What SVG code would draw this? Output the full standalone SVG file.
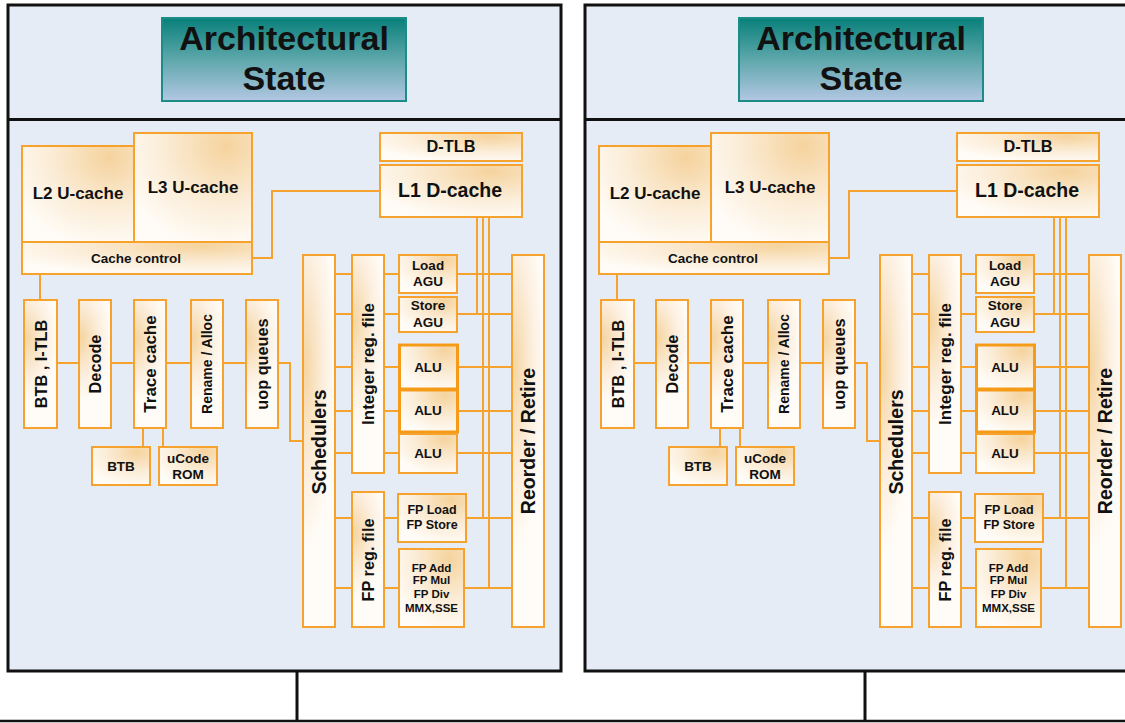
<svg xmlns="http://www.w3.org/2000/svg" width="1125" height="723" viewBox="0 0 1125 723">
<defs>
<linearGradient id="teal" x1="0" y1="0" x2="0" y2="1">
<stop offset="0" stop-color="#08807a"/>
<stop offset="0.5" stop-color="#5ea7ab"/>
<stop offset="1" stop-color="#b3c7e3"/>
</linearGradient>
<radialGradient id="hg" cx="0.78" cy="0.12" r="0.95">
<stop offset="0" stop-color="#f5d39d"/>
<stop offset="0.55" stop-color="#fbecd6"/>
<stop offset="1" stop-color="#fffcf7"/>
</radialGradient>
<radialGradient id="vg" cx="0.05" cy="0.3" r="1" gradientTransform="translate(0.05 0.3) scale(1 0.5) translate(-0.05 -0.3)">
<stop offset="0" stop-color="#f5d5a2"/>
<stop offset="0.6" stop-color="#fcefdf"/>
<stop offset="1" stop-color="#fffcf7"/>
</radialGradient>
<style>
.panel{fill:#e6ecf6;stroke:#111;stroke-width:3}
.bar{stroke:#111;stroke-width:3;fill:none}
.as{fill:url(#teal);stroke:#1b8c86;stroke-width:2}
.h{fill:url(#hg);stroke:#f7a22c;stroke-width:2}
.v{fill:url(#vg);stroke:#f7a22c;stroke-width:2}
.hb{fill:url(#hg);stroke:#f59b18;stroke-width:3}
.c{fill:none;stroke:#f7a22c;stroke-width:2}
text{font-family:"Liberation Sans",Arial,sans-serif;font-weight:bold;fill:#111;text-anchor:middle}
.t34{font-size:34px}
.t20{font-size:19.5px}
.t17{font-size:17px}
.t16{font-size:16.3px}
.t14{font-size:14px}
.t13{font-size:13.5px}
.t12{font-size:12.5px}
.t11{font-size:11.5px}
</style>
</defs>
<rect width="1125" height="723" fill="#ffffff"/>
<g id="frames">
<rect class="panel" x="8" y="5" width="553" height="666"/>
<line class="bar" x1="8" y1="119.5" x2="561" y2="119.5"/>
<rect class="panel" x="585" y="5" width="560" height="666"/>
<line class="bar" x1="585" y1="119.5" x2="1125" y2="119.5"/>
<line class="bar" x1="297" y1="671" x2="297" y2="721"/>
<line class="bar" x1="865" y1="671" x2="865" y2="721"/>
<line x1="0" y1="721" x2="1125" y2="721" stroke="#111" stroke-width="2.5"/>
</g>

<g id="core0">
<g id="connectors0">
<polyline class="c" points="380,191 272,191 272,258 252,258"/>
<line class="c" x1="40" y1="274" x2="40" y2="300"/>
<line class="c" x1="57" y1="363" x2="246" y2="363"/>
<polyline class="c" points="278,363 290,363 290,441 303,441"/>
<line class="c" x1="143" y1="428" x2="143" y2="447"/>
<line class="c" x1="163" y1="428" x2="163" y2="447"/>
<line class="c" x1="335" y1="274" x2="512" y2="274"/>
<line class="c" x1="335" y1="314" x2="512" y2="314"/>
<line class="c" x1="335" y1="367" x2="512" y2="367"/>
<line class="c" x1="335" y1="411" x2="512" y2="411"/>
<line class="c" x1="335" y1="453" x2="512" y2="453"/>
<line class="c" x1="335" y1="518" x2="512" y2="518"/>
<line class="c" x1="335" y1="588" x2="512" y2="588"/>
<line class="c" x1="477" y1="217" x2="477" y2="314"/>
<line class="c" x1="483" y1="217" x2="483" y2="518"/>
<line class="c" x1="489" y1="217" x2="489" y2="588"/>
</g>
<g id="archstate0"><rect class="as" x="162" y="18" width="244" height="83"/><text class="t34" x="284" y="50">Architectural</text><text class="t34" x="284" y="90">State</text></g>
<g id="l2cache0"><rect class="h" x="22" y="146" width="112" height="96"/><text class="t17" x="78" y="199">L2 U-cache</text></g>
<g id="l3cache0"><rect class="h" x="134" y="133" width="118" height="109"/><text class="t17" x="193" y="193">L3 U-cache</text></g>
<g id="cachectl0"><rect class="h" x="22" y="242" width="230" height="32"/><text class="t13" x="136" y="263">Cache control</text></g>
<g id="dtlb0"><rect class="h" x="380" y="133" width="142" height="28"/><text class="t16" x="451" y="152">D-TLB</text></g>
<g id="l1dcache0"><rect class="h" x="380" y="165" width="142" height="52"/><text class="t20" x="450" y="197">L1 D-cache</text></g>
<g id="btbitlb0"><rect class="v" x="24" y="300" width="33" height="128"/><text class="t16" transform="translate(40.5,364) rotate(-90)" y="6">BTB , I-TLB</text></g>
<g id="decode0"><rect class="v" x="79" y="300" width="32" height="128"/><text class="t16" transform="translate(95,364) rotate(-90)" y="6">Decode</text></g>
<g id="trace0"><rect class="v" x="134" y="300" width="32" height="128"/><text class="t17" transform="translate(150,364) rotate(-90)" y="6">Trace cache</text></g>
<g id="rename0"><rect class="v" x="191" y="300" width="32" height="128"/><text class="t14" transform="translate(207,364) rotate(-90)" y="5">Rename / Alloc</text></g>
<g id="uopq0"><rect class="v" x="246" y="300" width="32" height="128"/><text class="t16" transform="translate(262,364) rotate(-90)" y="6">uop queues</text></g>
<g id="btb0"><rect class="h" x="92" y="447" width="58" height="38"/><text class="t13" x="121" y="471">BTB</text></g>
<g id="ucode0"><rect class="h" x="159" y="447" width="58" height="38"/><text class="t13" x="188" y="463">uCode</text><text class="t13" x="188" y="479">ROM</text></g>
<g id="sched0"><rect class="v" x="303" y="255" width="32" height="372"/><text class="t20" transform="translate(319,442) rotate(-90)" y="7">Schedulers</text></g>
<g id="intreg0"><rect class="v" x="352" y="255" width="32" height="218"/><text class="t17" transform="translate(368,364) rotate(-90)" y="6">Integer reg. file</text></g>
<g id="fpreg0"><rect class="v" x="352" y="492" width="32" height="135"/><text class="t16" transform="translate(368,560) rotate(-90)" y="6">FP reg. file</text></g>
<g id="reorder0"><rect class="v" x="512" y="255" width="32" height="372"/><text class="t20" transform="translate(528,441) rotate(-90)" y="7">Reorder / Retire</text></g>
<g id="loadagu0"><rect class="h" x="399" y="255" width="58" height="38"/><text class="t13" x="428" y="270">Load</text><text class="t13" x="428" y="286">AGU</text></g>
<g id="storeagu0"><rect class="h" x="399" y="297" width="58" height="35"/><text class="t13" x="428" y="310">Store</text><text class="t13" x="428" y="327">AGU</text></g>
<g id="alu1_0"><rect class="hb" x="399.5" y="345" width="58" height="44"/><text class="t13" x="428" y="372">ALU</text></g>
<g id="alu2_0"><rect class="hb" x="399.5" y="390" width="58" height="42"/><text class="t13" x="428" y="415">ALU</text></g>
<g id="alu3_0"><rect class="h" x="399" y="434" width="58" height="39"/><text class="t13" x="428" y="458">ALU</text></g>
<g id="fpls0"><rect class="h" x="398" y="494" width="68" height="48"/><text class="t12" x="432" y="514">FP Load</text><text class="t12" x="432" y="529">FP Store</text></g>
<g id="fpadd0"><rect class="h" x="399" y="549" width="65" height="78"/><text class="t11" x="431.5" y="572">FP Add</text><text class="t11" x="431.5" y="584">FP Mul</text><text class="t11" x="431.5" y="598">FP Div</text><text class="t11" x="431.5" y="612">MMX,SSE</text></g>
</g>

<g id="core1" transform="translate(577,0)">
<g id="connectors1">
<polyline class="c" points="380,191 272,191 272,258 252,258"/>
<line class="c" x1="40" y1="274" x2="40" y2="300"/>
<line class="c" x1="57" y1="363" x2="246" y2="363"/>
<polyline class="c" points="278,363 290,363 290,441 303,441"/>
<line class="c" x1="143" y1="428" x2="143" y2="447"/>
<line class="c" x1="163" y1="428" x2="163" y2="447"/>
<line class="c" x1="335" y1="274" x2="512" y2="274"/>
<line class="c" x1="335" y1="314" x2="512" y2="314"/>
<line class="c" x1="335" y1="367" x2="512" y2="367"/>
<line class="c" x1="335" y1="411" x2="512" y2="411"/>
<line class="c" x1="335" y1="453" x2="512" y2="453"/>
<line class="c" x1="335" y1="518" x2="512" y2="518"/>
<line class="c" x1="335" y1="588" x2="512" y2="588"/>
<line class="c" x1="477" y1="217" x2="477" y2="314"/>
<line class="c" x1="483" y1="217" x2="483" y2="518"/>
<line class="c" x1="489" y1="217" x2="489" y2="588"/>
</g>
<g id="archstate1"><rect class="as" x="162" y="18" width="244" height="83"/><text class="t34" x="284" y="50">Architectural</text><text class="t34" x="284" y="90">State</text></g>
<g id="l2cache1"><rect class="h" x="22" y="146" width="112" height="96"/><text class="t17" x="78" y="199">L2 U-cache</text></g>
<g id="l3cache1"><rect class="h" x="134" y="133" width="118" height="109"/><text class="t17" x="193" y="193">L3 U-cache</text></g>
<g id="cachectl1"><rect class="h" x="22" y="242" width="230" height="32"/><text class="t13" x="136" y="263">Cache control</text></g>
<g id="dtlb1"><rect class="h" x="380" y="133" width="142" height="28"/><text class="t16" x="451" y="152">D-TLB</text></g>
<g id="l1dcache1"><rect class="h" x="380" y="165" width="142" height="52"/><text class="t20" x="450" y="197">L1 D-cache</text></g>
<g id="btbitlb1"><rect class="v" x="24" y="300" width="33" height="128"/><text class="t16" transform="translate(40.5,364) rotate(-90)" y="6">BTB , I-TLB</text></g>
<g id="decode1"><rect class="v" x="79" y="300" width="32" height="128"/><text class="t16" transform="translate(95,364) rotate(-90)" y="6">Decode</text></g>
<g id="trace1"><rect class="v" x="134" y="300" width="32" height="128"/><text class="t17" transform="translate(150,364) rotate(-90)" y="6">Trace cache</text></g>
<g id="rename1"><rect class="v" x="191" y="300" width="32" height="128"/><text class="t14" transform="translate(207,364) rotate(-90)" y="5">Rename / Alloc</text></g>
<g id="uopq1"><rect class="v" x="246" y="300" width="32" height="128"/><text class="t16" transform="translate(262,364) rotate(-90)" y="6">uop queues</text></g>
<g id="btb1"><rect class="h" x="92" y="447" width="58" height="38"/><text class="t13" x="121" y="471">BTB</text></g>
<g id="ucode1"><rect class="h" x="159" y="447" width="58" height="38"/><text class="t13" x="188" y="463">uCode</text><text class="t13" x="188" y="479">ROM</text></g>
<g id="sched1"><rect class="v" x="303" y="255" width="32" height="372"/><text class="t20" transform="translate(319,442) rotate(-90)" y="7">Schedulers</text></g>
<g id="intreg1"><rect class="v" x="352" y="255" width="32" height="218"/><text class="t17" transform="translate(368,364) rotate(-90)" y="6">Integer reg. file</text></g>
<g id="fpreg1"><rect class="v" x="352" y="492" width="32" height="135"/><text class="t16" transform="translate(368,560) rotate(-90)" y="6">FP reg. file</text></g>
<g id="reorder1"><rect class="v" x="512" y="255" width="32" height="372"/><text class="t20" transform="translate(528,441) rotate(-90)" y="7">Reorder / Retire</text></g>
<g id="loadagu1"><rect class="h" x="399" y="255" width="58" height="38"/><text class="t13" x="428" y="270">Load</text><text class="t13" x="428" y="286">AGU</text></g>
<g id="storeagu1"><rect class="h" x="399" y="297" width="58" height="35"/><text class="t13" x="428" y="310">Store</text><text class="t13" x="428" y="327">AGU</text></g>
<g id="alu1_1"><rect class="hb" x="399.5" y="345" width="58" height="44"/><text class="t13" x="428" y="372">ALU</text></g>
<g id="alu2_1"><rect class="hb" x="399.5" y="390" width="58" height="42"/><text class="t13" x="428" y="415">ALU</text></g>
<g id="alu3_1"><rect class="h" x="399" y="434" width="58" height="39"/><text class="t13" x="428" y="458">ALU</text></g>
<g id="fpls1"><rect class="h" x="398" y="494" width="68" height="48"/><text class="t12" x="432" y="514">FP Load</text><text class="t12" x="432" y="529">FP Store</text></g>
<g id="fpadd1"><rect class="h" x="399" y="549" width="65" height="78"/><text class="t11" x="431.5" y="572">FP Add</text><text class="t11" x="431.5" y="584">FP Mul</text><text class="t11" x="431.5" y="598">FP Div</text><text class="t11" x="431.5" y="612">MMX,SSE</text></g>
</g>
</svg>
